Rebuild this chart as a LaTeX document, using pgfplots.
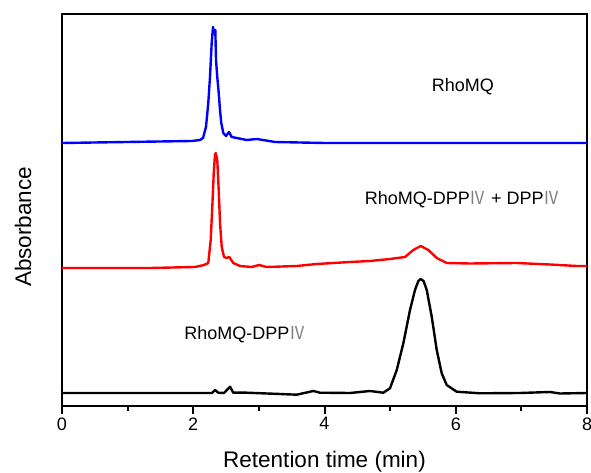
\documentclass[border=0pt]{standalone}
\usepackage{pgfplots}
\pgfplotsset{compat=1.18}
\usepackage{fontspec}
\setmainfont{Liberation Sans}
\newfontfamily\cjk{Noto Sans CJK SC}[FakeStretch=0.9]
\newcommand{\IV}{{\cjk\color{black!50}Ⅳ}}
\begin{document}
\begin{tikzpicture}
\useasboundingbox (-62pt,-67pt) rectangle (529pt,406pt);
\begin{axis}[
  scale only axis,
  width=525pt, height=392pt,
  xmin=0, xmax=8, ymin=0, ymax=392,
  axis line style={line width=2.2pt},
  xtick={0,2,4,6,8},
  minor xtick={1,3,5,7},
  ytick=\empty,
  tick align=outside,
  xtick pos=bottom,
  major tick length=8pt,
  minor tick length=5pt,
  tick style={line width=2pt, black},
  ticklabel style={font=\fontsize{18}{20}\selectfont},
  /pgf/number format/assume math mode=true,
  xlabel={Retention time (min)},
  ylabel={Absorbance},
  every axis x label/.style={at={(axis description cs:0.5,-0.143)}, anchor=center, font=\fontsize{22.5}{24}\selectfont},
  every axis y label/.style={at={(axis description cs:-0.0743,0.457)}, rotate=90, anchor=center, font=\fontsize{22.5}{24}\selectfont},
  clip=true,
]
\addplot[blue, line width=2.4pt, line join=round] coordinates {
(0,263) (1.981,265) (2.103,266) (2.149,268) (2.194,279) (2.229,303) (2.255,329)
(2.281,363) (2.301,379) (2.316,373) (2.336,376) (2.347,346) (2.366,329) (2.388,313)
(2.408,296) (2.427,283) (2.458,273) (2.499,270) (2.545,274) (2.586,269) (2.662,268)
(2.815,266) (2.967,267) (3.063,266) (3.246,264) (4,263) (6,263) (8,263)
};
\addplot[red, line width=2.4pt, line join=round] coordinates {
(0,138) (1.341,138) (2.027,139) (2.164,141) (2.229,143) (2.266,166) (2.290,199)
(2.312,233) (2.331,251) (2.342,253) (2.366,246) (2.388,216) (2.408,183) (2.434,159)
(2.469,149) (2.507,148) (2.549,149) (2.610,143) (2.712,140) (2.891,139) (3.002,141)
(3.119,139) (3.576,140) (3.881,142) (4.389,144) (4.693,145) (4.998,147) (5.227,149)
(5.353,156) (5.466,160) (5.582,156) (5.710,148) (5.862,143) (6.217,142.5) (6.929,143)
(7.436,141.5) (7.843,140) (8,140)
};
\addplot[black, line width=2.4pt, line join=round] coordinates {
(0,13) (2.103,13) (2.286,13) (2.331,16) (2.382,13.3) (2.469,13) (2.560,19.3)
(2.610,13.3) (2.815,13.3) (3.322,12) (3.576,11.3) (3.829,15) (3.931,13.3) (4.389,13)
(4.693,15) (4.896,13.3) (4.998,17.7) (5.101,36) (5.201,62.7) (5.303,96) (5.379,116)
(5.43,125) (5.466,127) (5.51,125) (5.558,116) (5.634,89.3) (5.710,56) (5.786,32.7)
(5.862,21) (6.014,14.3) (6.370,12.7) (6.979,13) (7.436,14) (7.588,12.5) (8,13)
};
\node[font=\fontsize{18}{20}\selectfont] at (axis cs:6.11,319) {RhoMQ};
\node[font=\fontsize{18}{20}\selectfont] at (axis cs:6.10,206) {RhoMQ-DPP\IV{} + DPP\IV};
\node[font=\fontsize{18}{20}\selectfont] at (axis cs:2.79,71) {RhoMQ-DPP\IV};
\end{axis}
\end{tikzpicture}
\end{document}
